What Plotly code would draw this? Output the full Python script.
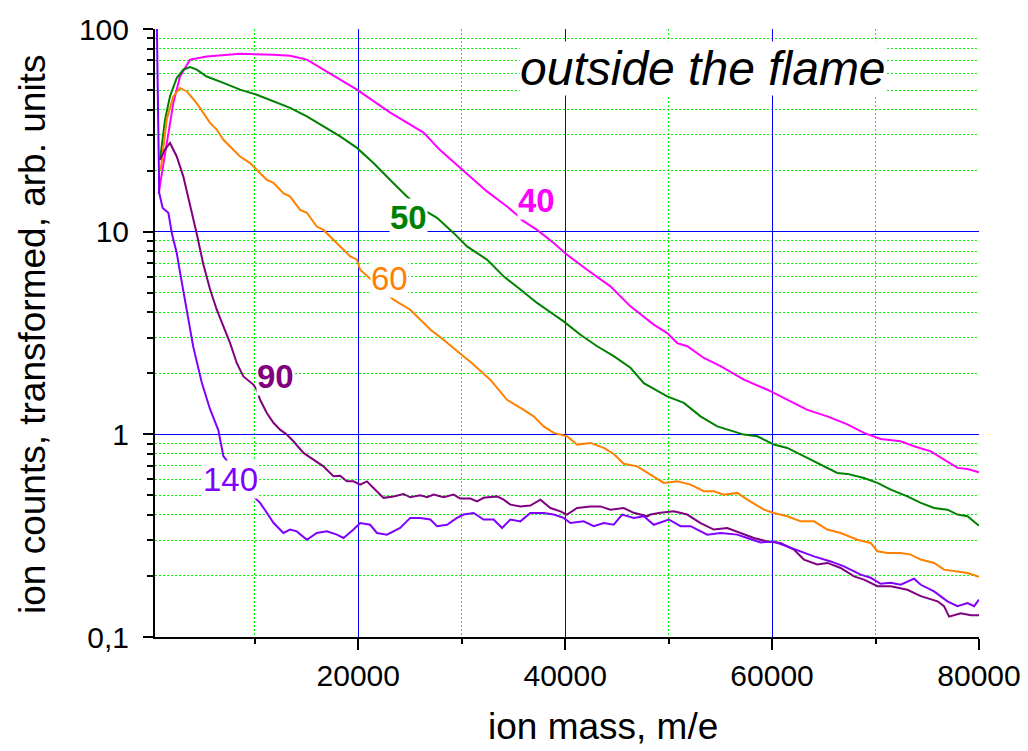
import numpy as np
import plotly.graph_objects as go

# ---- spectra: ion mass (m/e) vs transformed ion counts, one series per height ----
mass_40 = [706, 1480, 2120, 2770, 3735, 5350, 8570, 11800, 13410, 15030, 16630, 19870,
           23090, 26310, 27930, 29860, 32440, 34380, 35350, 35830, 37280, 38890, 40180,
           42120, 44370, 46310, 48560, 49860, 50830, 51800, 53400, 55020, 57270, 59540,
           61470, 63410, 65340, 67280, 68880, 70500, 72430, 73720, 75340, 76950, 77920,
           78890, 80000]
counts_40 = [15.5, 26.4, 43.1, 58.3, 70.6, 73.2, 75.5, 74.7, 73.8, 70.6, 63.0, 50.2,
             38.7, 30.8, 25.2, 20.6, 15.8, 13.3, 12.1, 11.4, 10.2, 8.8, 7.7,
             6.49, 5.37, 4.28, 3.48, 3.16, 2.82, 2.72, 2.38, 2.17, 1.86, 1.66,
             1.48, 1.32, 1.227, 1.12, 1.016, 0.949, 0.924, 0.873, 0.824, 0.736, 0.683,
             0.675, 0.650]

mass_50 = [832, 1320, 1800, 2450, 3090, 3735, 4380, 5350, 6960, 8570, 10190, 11800,
           13410, 15030, 16630, 18250, 19870, 21470, 23090, 24700, 26310, 27610, 29210,
           30510, 32440, 34050, 35670, 37280, 38890, 39850, 41470, 43090, 44690, 46310,
           47600, 49860, 51470, 53080, 54700, 56300, 57270, 58570, 60170, 61470, 62760,
           64370, 66310, 67280, 68880, 70180, 71470, 73080, 74370, 75660, 76950, 77920,
           78890, 80000]
counts_50 = [22.6, 35.7, 46.5, 57.3, 63.0, 64.9, 63.0, 58.3, 54.2, 50.2, 47.4, 43.9,
             40.8, 37.1, 33.1, 29.5, 25.9, 21.8, 18.0, 14.9, 12.8, 11.7, 9.86,
             8.46, 7.28, 6.02, 5.18, 4.45, 3.90, 3.61, 3.10, 2.72, 2.43, 2.13,
             1.79, 1.54, 1.43, 1.227, 1.095, 1.035, 0.997, 0.978, 0.890, 0.857, 0.794,
             0.723, 0.645, 0.638, 0.609, 0.576, 0.534, 0.494, 0.459, 0.433, 0.425, 0.402,
             0.394, 0.354]

mass_60 = [900, 1480, 2120, 2770, 3420, 4380, 5670, 6320, 6960, 7930, 8570, 9540,
           10190, 11160, 11800, 12760, 13410, 14380, 15030, 15990, 16630, 17600, 18250,
           19220, 19870, 20180, 23410, 25020, 26960, 28240, 29860, 30830, 32760, 34380,
           35990, 36950, 37920, 38890, 40180, 41150, 42440, 43730, 44690, 45660, 46960,
           48240, 49530, 50830, 52120, 53400, 54370, 55340, 56630, 57600, 59210, 60170,
           61470, 62760, 64050, 65340, 66630, 68250, 69530, 70180, 71150, 72430, 73400,
           74370, 75660, 76620, 77920, 78890, 80000]
counts_60 = [20.2, 35.7, 46.5, 51.2, 49.2, 43.1, 34.4, 31.9, 28.4, 25.4, 23.5, 21.8,
             20.2, 18.0, 17.4, 15.5, 14.9, 12.8, 12.4, 10.6, 10.2, 9.13, 8.46,
             7.55, 7.28, 6.49, 4.62, 4.12, 3.29, 2.93, 2.50, 2.28, 1.86, 1.48,
             1.32, 1.227, 1.095, 1.016, 0.978, 0.890, 0.907, 0.857, 0.800, 0.716, 0.695,
             0.630, 0.576, 0.586, 0.565, 0.524, 0.524, 0.504, 0.514, 0.476, 0.425, 0.409,
             0.394, 0.372, 0.372, 0.339, 0.326, 0.302, 0.291, 0.265, 0.260, 0.260, 0.255,
             0.241, 0.232, 0.215, 0.211, 0.207, 0.198]

mass_90 = [832, 1316, 1800, 2450, 3090, 3735, 4380, 5020, 5670, 6320, 6960, 7610,
           8250, 8890, 9860, 10190, 10510, 11160, 11800, 12440, 13090, 13730, 14700,
           15670, 16630, 17600, 18250, 18900, 19540, 20180, 20830, 21470, 22440, 23410,
           24370, 25020, 25990, 26640, 27280, 28240, 29210, 29860, 30830, 31480, 32110,
           33410, 34050, 34700, 35670, 36630, 37600, 38570, 39540, 40180, 41150, 42440,
           43410, 44370, 45660, 46630, 47930, 48240, 49210, 50500, 51800, 53080, 54370,
           55670, 56950, 58240, 59540, 60820, 62110, 63080, 64370, 65340, 66630, 67920,
           68880, 70180, 71470, 73080, 74370, 75990, 76620, 77110, 78240, 79210, 80000]
counts_90 = [22.6, 25.4, 27.4, 23.5, 18.7, 13.6, 9.8, 6.9, 5.2, 4.12, 3.41, 2.82,
             2.25, 1.93, 1.76, 1.66, 1.48, 1.275, 1.14, 1.055, 0.997, 0.924, 0.810,
             0.750, 0.695, 0.621, 0.625, 0.586, 0.586, 0.565, 0.586, 0.544, 0.486, 0.494,
             0.508, 0.489, 0.500, 0.489, 0.504, 0.489, 0.504, 0.482, 0.482, 0.467, 0.486,
             0.494, 0.476, 0.450, 0.441, 0.445, 0.476, 0.433, 0.417, 0.402, 0.433, 0.441,
             0.441, 0.425, 0.433, 0.410, 0.394, 0.402, 0.410, 0.417, 0.402, 0.365, 0.339,
             0.345, 0.326, 0.308, 0.296, 0.291, 0.270, 0.241, 0.228, 0.232, 0.219, 0.199,
             0.192, 0.178, 0.178, 0.171, 0.159, 0.150, 0.142, 0.126, 0.131, 0.128, 0.128]

mass_140 = [450, 560, 650, 760, 1090, 1640, 2000, 2450, 2770, 3420, 4050, 4870,
            5670, 6470, 6960, 10020, 10510, 11160, 11800, 12760, 13410, 14060, 15030,
            15990, 16960, 17930, 18570, 19540, 20180, 21150, 21800, 22770, 24050, 25020,
            25990, 26960, 27610, 28570, 29540, 30180, 31150, 32110, 33080, 33900, 34700,
            35670, 36630, 37920, 38890, 39850, 40500, 41790, 42760, 43730, 44690, 45510,
            46630, 47600, 48560, 50020, 51150, 52120, 53730, 55020, 56630, 57600, 58890,
            60170, 61470, 62760, 64050, 65660, 66950, 68560, 69530, 70500, 71470, 72430,
            73720, 74370, 75660, 76950, 77920, 78890, 79530, 80000]
counts_140 = [200, 80, 30, 15.5, 13.1, 12.4, 9.7, 7.85, 6.3, 4.12, 2.7, 1.80,
              1.33, 1.05, 0.78, 0.486, 0.459, 0.410, 0.366, 0.326, 0.339, 0.332, 0.302,
              0.326, 0.332, 0.320, 0.308, 0.339, 0.365, 0.358, 0.326, 0.320, 0.345, 0.387,
              0.387, 0.380, 0.352, 0.358, 0.387, 0.402, 0.409, 0.380, 0.380, 0.345, 0.380,
              0.372, 0.409, 0.409, 0.402, 0.387, 0.365, 0.372, 0.352, 0.365, 0.358, 0.402,
              0.387, 0.394, 0.358, 0.380, 0.352, 0.352, 0.320, 0.326, 0.320, 0.308, 0.293,
              0.296, 0.280, 0.265, 0.250, 0.236, 0.223, 0.203, 0.196, 0.183, 0.185, 0.181,
              0.194, 0.181, 0.168, 0.150, 0.142, 0.147, 0.142, 0.153]

series = [
    ("40", mass_40, counts_40, "#FF00FF"),
    ("50", mass_50, counts_50, "#008000"),
    ("60", mass_60, counts_60, "#FF8000"),
    ("90", mass_90, counts_90, "#800080"),
    ("140", mass_140, counts_140, "#8000FF"),
]

# inline curve labels: (text, mass, counts, bold)
label_text = ["40", "50", "60", "90", "140"]
label_mass = [37200, 24830, 23040, 11990, 7680]
label_counts = [14.3, 11.8, 5.9, 1.93, 0.60]
label_bold = [True, True, False, True, False]

x_ticks = [20000, 40000, 60000, 80000]
x_minor = [10000, 30000, 50000, 70000]
y_ticks = [0.1, 1, 10, 100]
y_ticktext = ["0,1", "1", "10", "100"]
y_minor = [m * d for d in (0.1, 1, 10) for m in range(2, 10)]

FONT = "Liberation Sans, Arial, sans-serif"
L, R, T, B = 155, 49, 29, 114
W, H = 1028, 751
PW, PH = W - L - R, H - T - B


def px_to_paper(px, py):
    return (px - L) / PW, (H - B - py) / PH


fig = go.Figure()
for name, xs, ys, col in series:
    fig.add_trace(go.Scatter(x=xs, y=ys, mode="lines", name=name,
                             line=dict(color=col, width=2)))

for txt, mx, cy, bold, (_, _, _, col) in zip(label_text, label_mass, label_counts,
                                             label_bold, series):
    fig.add_annotation(x=mx, y=np.log10(cy), xref="x", yref="y", showarrow=False,
                       xanchor="center", yanchor="middle",
                       text=f"<b>{txt}</b>" if bold else txt,
                       font=dict(family=FONT, size=33, color=col),
                       bgcolor="white", borderpad=0)

fx, fy = px_to_paper(703, 68)
fig.add_annotation(x=fx, y=fy, xref="paper", yref="paper", showarrow=False,
                   xanchor="center", yanchor="middle",
                   text="<i>outside the flame</i>",
                   font=dict(family=FONT, size=48, color="black"),
                   bgcolor="white", borderpad=0)

tx, ty = px_to_paper(603, 726)
fig.add_annotation(x=tx, y=ty, xref="paper", yref="paper", showarrow=False,
                   xanchor="center", yanchor="middle", text="ion mass, m/e",
                   font=dict(family=FONT, size=37, color="black"))
vx, vy = px_to_paper(32, 335)
fig.add_annotation(x=vx, y=vy, xref="paper", yref="paper", showarrow=False,
                   xanchor="center", yanchor="middle",
                   text="ion counts, transformed, arb. units",
                   textangle=-90, font=dict(family=FONT, size=37, color="black"))

fig.update_xaxes(range=[350, 80000], tickmode="array", tickvals=x_ticks,
                 ticktext=[str(v) for v in x_ticks], ticks="outside", ticklen=11,
                 tickwidth=2, tickcolor="black", showline=True, linecolor="black",
                 linewidth=2, showgrid=True, gridcolor="#0000FF", gridwidth=1,
                 zeroline=False, automargin=False,
                 tickfont=dict(family=FONT, size=30, color="black"),
                 minor=dict(tickmode="array", tickvals=x_minor, ticks="outside",
                            ticklen=5, tickwidth=2, tickcolor="black", showgrid=True,
                            gridcolor="#00FF00", griddash="2px,2px", gridwidth=1))
fig.update_yaxes(type="log", range=[-1, 2], tickmode="array", tickvals=y_ticks,
                 ticktext=y_ticktext, ticks="outside", ticklen=10, tickwidth=2,
                 tickcolor="black", showline=True, linecolor="black", linewidth=2,
                 showgrid=True, gridcolor="#0000FF", gridwidth=1, zeroline=False,
                 ticklabelstandoff=8, automargin=False,
                 tickfont=dict(family=FONT, size=30, color="black"),
                 minor=dict(tickmode="array", tickvals=y_minor, ticks="outside",
                            ticklen=6, tickwidth=2, tickcolor="black", showgrid=True,
                            gridcolor="#00FF00", griddash="2px,2px", gridwidth=1))

fig.update_layout(width=W, height=H, margin=dict(l=L, r=R, t=T, b=B, autoexpand=False),
                  plot_bgcolor="white", paper_bgcolor="white", showlegend=False,
                  font=dict(family=FONT, color="black"))

fig.write_html("out.html")
